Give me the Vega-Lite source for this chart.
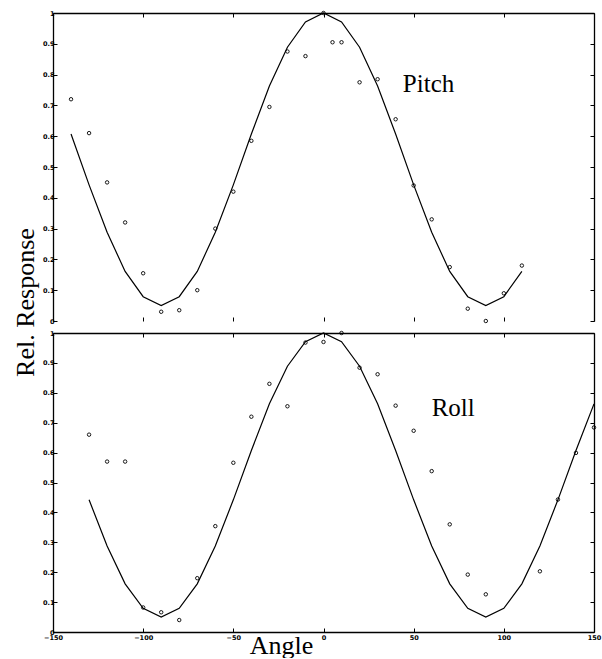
{
  "$schema": "https://vega.github.io/schema/vega-lite/v6.json",
  "background": "white",
  "padding": {"left": 12, "top": 9, "right": 5, "bottom": 0},
  "config": {
    "view": {"stroke": null},
    "axis": {
      "grid": false,
      "domainColor": "black",
      "domainWidth": 1.3,
      "tickColor": "black",
      "tickSize": -4,
      "tickWidth": 1,
      "labelFont": "DejaVu Sans",
      "labelFontSize": 6.5,
      "labelFontWeight": "bold",
      "labelColor": "black",
      "labelPadding": 3,
      "labelFlush": false,
      "titleFont": "Liberation Serif",
      "titleFontWeight": "normal",
      "titleColor": "black",
      "titleFontSize": 26
    }
  },
  "datasets": {
    "pitch_fit": [
      {"angle": -140, "value": 0.607}, {"angle": -130, "value": 0.442}, {"angle": -120, "value": 0.288},
      {"angle": -110, "value": 0.161}, {"angle": -100, "value": 0.079}, {"angle": -90, "value": 0.05},
      {"angle": -80, "value": 0.079}, {"angle": -70, "value": 0.161}, {"angle": -60, "value": 0.288},
      {"angle": -50, "value": 0.442}, {"angle": -40, "value": 0.607}, {"angle": -30, "value": 0.763},
      {"angle": -20, "value": 0.889}, {"angle": -10, "value": 0.971}, {"angle": 0, "value": 1.0},
      {"angle": 10, "value": 0.971}, {"angle": 20, "value": 0.889}, {"angle": 30, "value": 0.763},
      {"angle": 40, "value": 0.607}, {"angle": 50, "value": 0.442}, {"angle": 60, "value": 0.288},
      {"angle": 70, "value": 0.161}, {"angle": 80, "value": 0.079}, {"angle": 90, "value": 0.05},
      {"angle": 100, "value": 0.079}, {"angle": 110, "value": 0.161}
    ],
    "pitch_obs": [
      {"angle": -140, "value": 0.72}, {"angle": -130, "value": 0.61}, {"angle": -120, "value": 0.45},
      {"angle": -110, "value": 0.32}, {"angle": -100, "value": 0.155}, {"angle": -90, "value": 0.03},
      {"angle": -80, "value": 0.035}, {"angle": -70, "value": 0.10}, {"angle": -60, "value": 0.30},
      {"angle": -50, "value": 0.42}, {"angle": -40, "value": 0.585}, {"angle": -30, "value": 0.695},
      {"angle": -20, "value": 0.875}, {"angle": -10, "value": 0.86}, {"angle": 0, "value": 1.0},
      {"angle": 5, "value": 0.905}, {"angle": 10, "value": 0.905}, {"angle": 20, "value": 0.775},
      {"angle": 30, "value": 0.785}, {"angle": 40, "value": 0.655}, {"angle": 50, "value": 0.44},
      {"angle": 60, "value": 0.33}, {"angle": 70, "value": 0.175}, {"angle": 80, "value": 0.04},
      {"angle": 90, "value": 0.0}, {"angle": 100, "value": 0.09}, {"angle": 110, "value": 0.18}
    ],
    "roll_fit": [
      {"angle": -130, "value": 0.442}, {"angle": -120, "value": 0.288}, {"angle": -110, "value": 0.161},
      {"angle": -100, "value": 0.079}, {"angle": -90, "value": 0.05}, {"angle": -80, "value": 0.079},
      {"angle": -70, "value": 0.161}, {"angle": -60, "value": 0.288}, {"angle": -50, "value": 0.442},
      {"angle": -40, "value": 0.607}, {"angle": -30, "value": 0.763}, {"angle": -20, "value": 0.889},
      {"angle": -10, "value": 0.971}, {"angle": 0, "value": 1.0}, {"angle": 10, "value": 0.971},
      {"angle": 20, "value": 0.889}, {"angle": 30, "value": 0.763}, {"angle": 40, "value": 0.607},
      {"angle": 50, "value": 0.442}, {"angle": 60, "value": 0.288}, {"angle": 70, "value": 0.161},
      {"angle": 80, "value": 0.079}, {"angle": 90, "value": 0.05}, {"angle": 100, "value": 0.079},
      {"angle": 110, "value": 0.161}, {"angle": 120, "value": 0.288}, {"angle": 130, "value": 0.442},
      {"angle": 140, "value": 0.607}, {"angle": 150, "value": 0.763}
    ],
    "roll_obs": [
      {"angle": -130, "value": 0.66}, {"angle": -120, "value": 0.57}, {"angle": -110, "value": 0.57},
      {"angle": -100, "value": 0.082}, {"angle": -90, "value": 0.066}, {"angle": -80, "value": 0.04},
      {"angle": -70, "value": 0.18}, {"angle": -60, "value": 0.354}, {"angle": -50, "value": 0.566},
      {"angle": -40, "value": 0.72}, {"angle": -30, "value": 0.83}, {"angle": -20, "value": 0.755},
      {"angle": -10, "value": 0.968}, {"angle": 0, "value": 0.97}, {"angle": 10, "value": 1.0},
      {"angle": 20, "value": 0.884}, {"angle": 30, "value": 0.862}, {"angle": 40, "value": 0.757},
      {"angle": 50, "value": 0.673}, {"angle": 60, "value": 0.538}, {"angle": 70, "value": 0.36},
      {"angle": 80, "value": 0.192}, {"angle": 90, "value": 0.126}, {"angle": 120, "value": 0.203},
      {"angle": 130, "value": 0.443}, {"angle": 140, "value": 0.599}, {"angle": 150, "value": 0.684}
    ],
    "pitch_label": [{"label": "Pitch", "angle": 44, "value": 0.743}],
    "roll_label": [{"label": "Roll", "angle": 60, "value": 0.723}]
  },
  "bounds": "flush",
  "spacing": 12,
  "vconcat": [
    {
      "width": 541,
      "height": 308,
      "layer": [
        {
          "data": {"name": "pitch_fit"},
          "mark": {"type": "line", "color": "black", "strokeWidth": 1.2},
          "encoding": {
            "x": {"field": "angle", "type": "quantitative",
              "scale": {"domain": [-150, 150], "nice": false, "zero": false},
              "axis": {"orient": "bottom", "labels": false, "domain": false, "title": null, "values": [-150, -100, -50, 0, 50, 100, 150]}},
            "y": {"field": "value", "type": "quantitative",
              "scale": {"domain": [0, 1], "nice": false, "zero": false},
              "axis": {"orient": "left", "values": [0, 0.1, 0.2, 0.3, 0.4, 0.5, 0.6, 0.7, 0.8, 0.9, 1], "format": "~g",
                "title": "Rel. Response", "titleAngle": 270, "titleX": -20, "titleY": 289, "titleAlign": "center", "titleBaseline": "alphabetic"}}
          }
        },
        {
          "data": {"name": "pitch_obs"},
          "mark": {"type": "point", "shape": "circle", "filled": false, "color": "black", "size": 12, "strokeWidth": 0.9, "opacity": 1},
          "encoding": {
            "x": {"field": "angle", "type": "quantitative",
              "axis": {"orient": "top", "labels": false, "title": null, "values": [-150, -100, -50, 0, 50, 100, 150]}},
            "y": {"field": "value", "type": "quantitative",
              "axis": {"orient": "right", "labels": false, "title": null, "values": [0, 0.1, 0.2, 0.3, 0.4, 0.5, 0.6, 0.7, 0.8, 0.9, 1]}}
          }
        },
        {
          "data": {"name": "pitch_label"},
          "mark": {"type": "text", "font": "Liberation Serif", "fontSize": 25, "align": "left", "baseline": "alphabetic", "color": "black"},
          "encoding": {
            "x": {"field": "angle", "type": "quantitative", "axis": null},
            "y": {"field": "value", "type": "quantitative", "axis": null},
            "text": {"field": "label"}
          }
        }
      ],
      "resolve": {"axis": {"x": "independent", "y": "independent"}}
    },
    {
      "width": 541,
      "height": 299,
      "layer": [
        {
          "data": {"name": "roll_fit"},
          "mark": {"type": "line", "color": "black", "strokeWidth": 1.2},
          "encoding": {
            "x": {"field": "angle", "type": "quantitative",
              "scale": {"domain": [-150, 150], "nice": false, "zero": false},
              "axis": {"orient": "bottom", "values": [-150, -100, -50, 0, 50, 100, 150], "labelPadding": 6,
                "title": "Angle", "titleX": 228, "titleY": 21, "titleAlign": "center", "titleBaseline": "alphabetic"}},
            "y": {"field": "value", "type": "quantitative",
              "scale": {"domain": [0, 1], "nice": false, "zero": false},
              "axis": {"orient": "left", "values": [0, 0.1, 0.2, 0.3, 0.4, 0.5, 0.6, 0.7, 0.8, 0.9, 1], "format": "~g", "title": null}}
          }
        },
        {
          "data": {"name": "roll_obs"},
          "mark": {"type": "point", "shape": "circle", "filled": false, "color": "black", "size": 12, "strokeWidth": 0.9, "opacity": 1},
          "encoding": {
            "x": {"field": "angle", "type": "quantitative",
              "axis": {"orient": "top", "labels": false, "title": null, "values": [-150, -100, -50, 0, 50, 100, 150]}},
            "y": {"field": "value", "type": "quantitative",
              "axis": {"orient": "right", "labels": false, "title": null, "values": [0, 0.1, 0.2, 0.3, 0.4, 0.5, 0.6, 0.7, 0.8, 0.9, 1]}}
          }
        },
        {
          "data": {"name": "roll_label"},
          "mark": {"type": "text", "font": "Liberation Serif", "fontSize": 25, "align": "left", "baseline": "alphabetic", "color": "black"},
          "encoding": {
            "x": {"field": "angle", "type": "quantitative", "axis": null},
            "y": {"field": "value", "type": "quantitative", "axis": null},
            "text": {"field": "label"}
          }
        }
      ],
      "resolve": {"axis": {"x": "independent", "y": "independent"}}
    }
  ]
}
